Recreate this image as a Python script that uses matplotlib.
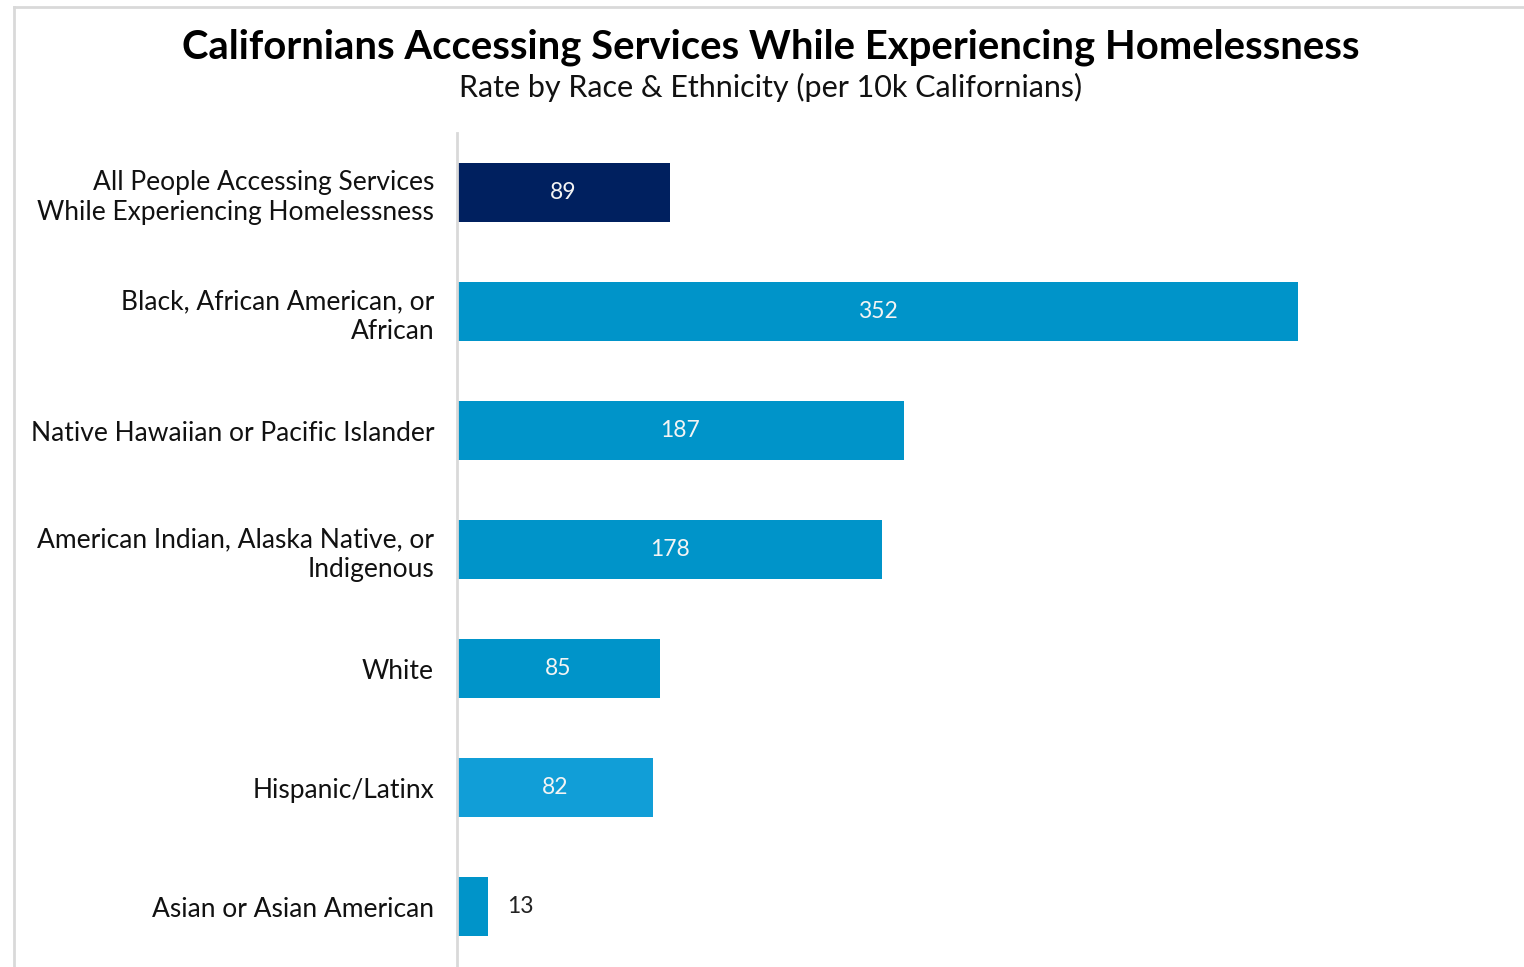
import matplotlib.pyplot as plt
from matplotlib.lines import Line2D

# Data
categories = [
    'All People Accessing Services\nWhile Experiencing Homelessness',
    'Black, African American, or\nAfrican',
    'Native Hawaiian or Pacific Islander',
    'American Indian, Alaska Native, or\nIndigenous',
    'White',
    'Hispanic/Latinx',
    'Asian or Asian American',
]
rates = [89, 352, 187, 178, 85, 82, 13]
bar_colors = ['#00205F', '#0094C9', '#0094C9', '#0094C9', '#0094C9', '#119ED7', '#0094C9']

plt.rcParams['font.family'] = ['Lato', 'DejaVu Sans']

W, H = 1524, 967
fig = plt.figure(figsize=(W / 100, H / 100), dpi=100)

# axes placed in pixel terms: left 457, top 133, bottom 966
ax_left, ax_top, ax_bottom, ax_right = 457, 133, 966, 1413
ax = fig.add_axes([ax_left / W, (H - ax_bottom) / H, (ax_right - ax_left) / W, (ax_bottom - ax_top) / H])

y = list(range(len(categories)))
ax.barh(y, rates, height=0.5, color=bar_colors)
ax.set_xlim(0, 400)
ax.set_ylim(len(categories) - 0.5, -0.5)

ax.set_yticks(y)
ax.set_yticklabels(categories, fontsize=19, color='#111111', linespacing=1.25)
ax.tick_params(axis='y', length=0, pad=16.5)
ax.set_xticks([])
for s in ['top', 'right', 'bottom']:
    ax.spines[s].set_visible(False)
ax.spines['left'].set_color('#D9D9D9')
ax.spines['left'].set_linewidth(2)
for lbl in ax.get_yticklabels():
    lbl.set_horizontalalignment('right')
    lbl.set_multialignment('right')

# value labels
for i, v in enumerate(rates):
    if v > 40:
        ax.text(v / 2, i, str(v), ha='center', va='center', color='#F4F4F4', fontsize=16.5)
    else:
        ax.text(v + 8, i, str(v), ha='left', va='center', color='#222222', fontsize=16.5)

# titles
fig.text(771 / W, 1 - 47 / H, 'Californians Accessing Services While Experiencing Homelessness',
         ha='center', va='center', fontsize=28.8, fontweight='bold', color='black')
fig.text(771 / W, 1 - 87 / H, 'Rate by Race & Ethnicity (per 10k Californians)',
         ha='center', va='center', fontsize=22, color='#111111')

# chart border (cropped)
fig.add_artist(Line2D([14 / W, 1], [1 - 7 / H, 1 - 7 / H], color='#D9D9D9', lw=2))
fig.add_artist(Line2D([14 / W, 14 / W], [0, 1 - 7 / H], color='#D9D9D9', lw=2))

fig.savefig('out.png', dpi=100)
